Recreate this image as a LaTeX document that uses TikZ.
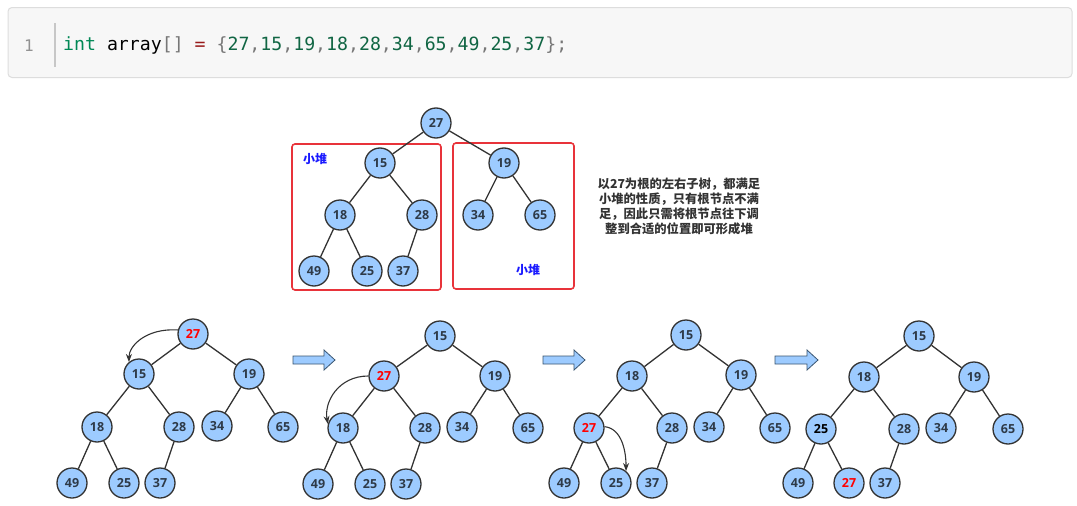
\documentclass[tikz,border=0pt]{standalone}
\usepackage{fontspec}
\setmainfont{Open Sans}
\newfontfamily\codefont{DejaVu Sans Mono}
\newfontfamily\cjk{Noto Sans CJK SC}
\usetikzlibrary{arrows.meta}
\definecolor{nodefill}{HTML}{9DCBFF}
\definecolor{nodeline}{HTML}{333333}
\definecolor{nodetext}{HTML}{2E3A48}
\definecolor{boxred}{HTML}{E8333A}
\definecolor{lblblue}{HTML}{1A1AFF}
\definecolor{codebg}{HTML}{F7F7F7}
\definecolor{codeborder}{HTML}{DDDDDD}
\definecolor{kwgreen}{HTML}{008855}
\definecolor{numgreen}{HTML}{116644}
\definecolor{opred}{HTML}{981A1A}
\definecolor{punct}{HTML}{777777}
\definecolor{arrowedge}{HTML}{3A5570}
\tikzset{
  hn/.style={circle, draw=nodeline, line width=1.3pt, fill=nodefill, minimum size=30pt, inner sep=0pt,
    font=\fontsize{12.5}{14}\selectfont\bfseries, text=nodetext},
  hot/.style={text=red},
  dark/.style={text=black},
  tedge/.style={draw=nodeline, line width=1.3pt},
  redbox/.style={draw=boxred, line width=1.6pt, rounded corners=3pt},
  heaplbl/.style={font=\cjk\fontsize{12}{14}\selectfont\bfseries, text=lblblue},
  swaparrow/.style={draw=nodeline, line width=1.1pt, -{Stealth[length=8pt,width=6pt]}},
  blockarrow/.style={fill=nodefill, draw=arrowedge, line width=0.8pt}
}
\newcommand{\blockarr}[3]{% x0, x1, y
  \draw[blockarrow] (#1,#3-4) -- (#2-11,#3-4) -- (#2-11,#3-10) -- (#2,#3) -- (#2-11,#3+10) -- (#2-11,#3+4) -- (#1,#3+4) -- cycle;}
\begin{document}
\begin{tikzpicture}[x=1pt,y=-1pt]
\useasboundingbox (0,0) rectangle (1077,506);
\fill[white] (0,0) rectangle (1077,506);

% code bar
\draw[fill=codebg, draw=codeborder, line width=1pt, rounded corners=4pt] (8,7.5) rectangle (1072,77.5);
\node[font=\codefont\fontsize{16}{18}\selectfont, text=punct!80] (ln) at (29,46) {1};
\draw[line width=2pt, draw=codeborder!90!black] (55,23) -- (55,67);
\node[anchor=west, inner sep=0pt, font=\codefont\fontsize{18.2}{20}\selectfont] (code) at (63,45.5)
 {\textcolor{kwgreen}{int} \textcolor{black}{array}\textcolor{punct}{[]} \textcolor{opred}{=} \textcolor{punct}{\{}\textcolor{numgreen}{27}\textcolor{punct}{,}\textcolor{numgreen}{15}\textcolor{punct}{,}\textcolor{numgreen}{19}\textcolor{punct}{,}\textcolor{numgreen}{18}\textcolor{punct}{,}\textcolor{numgreen}{28}\textcolor{punct}{,}\textcolor{numgreen}{34}\textcolor{punct}{,}\textcolor{numgreen}{65}\textcolor{punct}{,}\textcolor{numgreen}{49}\textcolor{punct}{,}\textcolor{numgreen}{25}\textcolor{punct}{,}\textcolor{numgreen}{37}\textcolor{punct}{\};}};

% ---------- top tree ----------
\draw[redbox] (292,144) rectangle (441,290);
\draw[redbox] (453,143) rectangle (574,289);
\node[heaplbl] (lblL) at (315,159) {小堆};
\node[heaplbl] (lblR) at (528,270) {小堆};

\node[hn] (t27) at (436,123) {27};
\node[hn] (t15) at (380,163) {15};
\node[hn] (t19) at (504,163) {19};
\node[hn] (t18) at (340,215) {18};
\node[hn] (t28) at (422,215) {28};
\node[hn] (t34) at (478,215) {34};
\node[hn] (t65) at (540,215) {65};
\node[hn] (t49) at (314,271) {49};
\node[hn] (t25) at (367,271) {25};
\node[hn] (t37) at (403,271) {37};
\draw[tedge] (t27)--(t15) (t27)--(t19) (t15)--(t18) (t15)--(t28) (t19)--(t34) (t19)--(t65) (t18)--(t49) (t18)--(t25) (t28)--(t37);

\node[font=\cjk\fontsize{12.3}{15}\selectfont\bfseries, text=black!80, align=center, inner sep=0pt] (desc) at (679,206.5)
 {以27为根的左右子树，都满足\\小堆的性质，只有根节点不满\\足，因此只需将根节点往下调\\整到合适的位置即可形成堆};

% ---------- tree A ----------
\node[hn,hot] (a27) at (193,334) {27};
\node[hn] (a15) at (139,374) {15};
\node[hn] (a19) at (249,374) {19};
\node[hn] (a18) at (97,427) {18};
\node[hn] (a28) at (179,427) {28};
\node[hn] (a34) at (217,426) {34};
\node[hn] (a65) at (283,427) {65};
\node[hn] (a49) at (72,483) {49};
\node[hn] (a25) at (124,483) {25};
\node[hn] (a37) at (160,483) {37};
\draw[tedge] (a27)--(a15) (a27)--(a19) (a15)--(a18) (a15)--(a28) (a19)--(a34) (a19)--(a65) (a18)--(a49) (a18)--(a25) (a28)--(a37);
\draw[swaparrow] (a27.165) .. controls +(-32,-2) and +(0,-16) .. (a15.130);

\blockarr{293}{335}{360}

% ---------- tree B ----------
\node[hn] (b15) at (440,336) {15};
\node[hn,hot] (b27) at (384,376) {27};
\node[hn] (b19) at (495,376) {19};
\node[hn] (b18) at (343,428) {18};
\node[hn] (b28) at (425,428) {28};
\node[hn] (b34) at (462,427) {34};
\node[hn] (b65) at (528,428) {65};
\node[hn] (b49) at (318,484) {49};
\node[hn] (b25) at (370,484) {25};
\node[hn] (b37) at (406,484) {37};
\draw[tedge] (b15)--(b27) (b15)--(b19) (b27)--(b18) (b27)--(b28) (b19)--(b34) (b19)--(b65) (b18)--(b49) (b18)--(b25) (b28)--(b37);
\draw[swaparrow] (b27.180) .. controls +(-30,0) and +(-4,-22) .. (b18.165);

\blockarr{543}{585}{360}

% ---------- tree C ----------
\node[hn] (c15) at (686,335) {15};
\node[hn] (c18) at (632,376) {18};
\node[hn] (c19) at (741,375) {19};
\node[hn,hot] (c27) at (589,428) {27};
\node[hn] (c28) at (672,428) {28};
\node[hn] (c34) at (709,427) {34};
\node[hn] (c65) at (775,428) {65};
\node[hn] (c49) at (564,483) {49};
\node[hn] (c25) at (616,483) {25};
\node[hn] (c37) at (652,483) {37};
\draw[tedge] (c15)--(c18) (c15)--(c19) (c18)--(c27) (c18)--(c28) (c19)--(c34) (c19)--(c65) (c27)--(c49) (c27)--(c25) (c28)--(c37);
\draw[swaparrow] (c27.5) .. controls +(18,2) and +(0,-18) .. (c25.50);

\blockarr{775}{818}{360}

% ---------- tree D ----------
\node[hn] (d15) at (919,336) {15};
\node[hn] (d18) at (864,377) {18};
\node[hn] (d19) at (974,377) {19};
\node[hn,dark] (d25) at (821,429) {25};
\node[hn] (d28) at (904,429) {28};
\node[hn] (d34) at (941,428) {34};
\node[hn] (d65) at (1008,429) {65};
\node[hn] (d49) at (798,483) {49};
\node[hn,hot] (d27) at (849,483) {27};
\node[hn] (d37) at (885,483) {37};
\draw[tedge] (d15)--(d18) (d15)--(d19) (d18)--(d25) (d18)--(d28) (d19)--(d34) (d19)--(d65) (d25)--(d49) (d25)--(d27) (d28)--(d37);
\end{tikzpicture}
\end{document}
